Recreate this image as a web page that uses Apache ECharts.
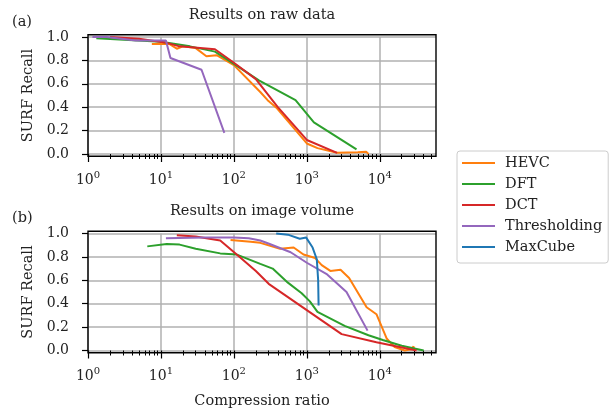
<!DOCTYPE html>
<html lang="en">
<head>
<meta charset="UTF-8">
<title>SURF Recall vs compression ratio</title>
<style>
  html, body { margin: 0; padding: 0; background: #fff; }
  #chart { width: 611px; height: 413px; }
</style>
<script src="https://cdn.jsdelivr.net/npm/echarts@6/dist/echarts.min.js"></script>
</head>
<body>
<div id="chart"></div>
<script>
// data: [compression ratio, SURF recall]
const rawHEVC = [[7.5, 0.94], [13, 0.94], [16.5, 0.90], [20, 0.92], [30, 0.905], [42, 0.835], [58, 0.845], [100, 0.76], [230, 0.53], [290, 0.46], [390, 0.39], [1000, 0.09], [1400, 0.05], [2600, 0.01], [5000, 0.015], [6500, 0.02], [7000, 0.0]];
const rawDFT = [[1.3, 0.99], [10, 0.96], [25, 0.92], [55, 0.875], [100, 0.77], [220, 0.63], [700, 0.46], [1250, 0.27], [4800, 0.04]];
const rawDCT = [[2, 1.0], [5, 0.985], [12, 0.95], [18, 0.92], [55, 0.895], [100, 0.78], [200, 0.64], [400, 0.40], [1000, 0.12], [2600, 0.01]];
const rawThr = [[1.15, 1.0], [1.8, 1.0], [4.5, 0.97], [11.7, 0.97], [13.5, 0.82], [36, 0.72], [74, 0.18]];

const volHEVC = [[90, 0.945], [170, 0.93], [230, 0.92], [430, 0.87], [660, 0.88], [900, 0.82], [1300, 0.79], [1600, 0.73], [2100, 0.68], [2900, 0.69], [3800, 0.62], [6600, 0.37], [9000, 0.31], [12500, 0.10], [16000, 0.03], [22000, 0.0], [27000, 0.01], [29000, 0.035], [30000, 0.0]];
const volDFT = [[6.5, 0.89], [12, 0.91], [18, 0.905], [30, 0.87], [65, 0.83], [110, 0.82], [230, 0.74], [340, 0.70], [550, 0.58], [850, 0.49], [1100, 0.42], [1400, 0.33], [3300, 0.21], [7000, 0.13], [11000, 0.09], [20000, 0.04], [40000, 0.0]];
const volDCT = [[16.5, 0.985], [30, 0.975], [65, 0.94], [120, 0.80], [200, 0.68], [300, 0.57], [3000, 0.14], [9000, 0.07], [32000, 0.0]];
const volThr = [[11.7, 0.96], [40, 0.965], [100, 0.965], [160, 0.96], [230, 0.94], [310, 0.91], [600, 0.84], [1000, 0.75], [1900, 0.65], [3500, 0.50], [6800, 0.17]];
const volMax = [[380, 1.0], [550, 0.99], [800, 0.955], [980, 0.965], [1200, 0.88], [1370, 0.78], [1430, 0.60], [1450, 0.385]];

const names = ['HEVC', 'DFT', 'DCT', 'Thresholding', 'MaxCube'];
const colors = ['#ff7f0e', '#2ca02c', '#d62728', '#9467bd', '#1f77b4'];
const majorTicks = [1, 10, 100, 1000, 10000];
const xMin = 1, xMax = 59000;

// minor ticks 2..9 of each decade
const minorTicks = [];
majorTicks.forEach(d => { for (let k = 2; k <= 9; k++) if (k * d < xMax) minorTicks.push(k * d); });

const FONT = 'DejaVu Serif';
const FS = 14;                         // tick label size
const FT = 14.5;                       // titles, legend, axis names
const L = 88, W = 348;                 // plot left / width
const plots = [{ top: 37, h: 117 }, { top: 233.5, h: 117 }];
const pad = 2.3;                       // frame sits slightly outside 0..1

let chart = echarts.init(document.getElementById('chart'), null, { renderer: 'canvas' });

function mainX(gi, last) {
    return {
        type: 'log', logBase: 10, gridIndex: gi, min: xMin, max: xMax, position: 'bottom',
        axisLine: { show: false },
        axisTick: { show: true, length: 8, inside: false, customValues: majorTicks, lineStyle: { color: '#000', width: 1.2 } },
        axisLabel: {
            customValues: majorTicks, margin: 16, color: '#222', fontFamily: FONT,
            formatter: v => '{b|10}{s|' + Math.round(Math.log10(v)) + '}',
            rich: {
                b: { fontSize: FS, fontFamily: FONT, color: '#222', lineHeight: 17, verticalAlign: 'bottom' },
                s: { fontSize: 10, fontFamily: FONT, color: '#222', lineHeight: 17, verticalAlign: 'top' }
            }
        },
        splitLine: { show: true, lineStyle: { color: '#b0b0b0', width: 1.5 } },
        name: last ? 'Compression ratio' : '',
        nameLocation: 'middle', nameGap: 43,
        nameTextStyle: { fontSize: FT, fontFamily: FONT, color: '#222' }
    };
}
function minorX(gi) {
    return {
        type: 'log', logBase: 10, gridIndex: gi, min: xMin, max: xMax, position: 'bottom',
        axisLine: { show: false },
        axisTick: { show: true, length: 5, customValues: minorTicks, lineStyle: { color: '#000', width: 1 } },
        axisLabel: { show: false },
        splitLine: { show: false }
    };
}
function yAx(gi) {
    return {
        type: 'value', gridIndex: gi, min: 0, max: 1, interval: 0.2,
        axisLine: { show: false },
        axisTick: { show: true, length: 6, lineStyle: { color: '#000', width: 1.2 } },
        axisLabel: { margin: 19, fontSize: FS, fontFamily: FONT, color: '#222', formatter: v => v.toFixed(1) },
        splitLine: { show: true, lineStyle: { color: '#b0b0b0', width: 1.5 } },
        name: 'SURF Recall', nameLocation: 'middle', nameGap: 51, nameRotate: 90,
        nameTextStyle: { fontSize: FT, fontFamily: FONT, color: '#222' }
    };
}

function line(name, data, ax, ay) {
    let i = names.indexOf(name);
    return {
        type: 'line', name: name, data: data, xAxisIndex: ax, yAxisIndex: ay,
        showSymbol: false, symbol: 'none', clip: false, z: 3 + i,
        lineStyle: { color: colors[i], width: 2 }, itemStyle: { color: colors[i] },
        emphasis: { disabled: true }
    };
}

const frames = plots.map(p => ({
    type: 'rect', z: 10, silent: true,
    shape: { x: L, y: p.top - pad, width: W, height: p.h + 2 * pad },
    style: { fill: 'none', stroke: '#000', lineWidth: 1.4 }
}));

let option = {
    animation: false,
    backgroundColor: '#fff',
    textStyle: { fontFamily: FONT },
    title: [
        { text: 'Results on raw data', left: L + W / 2, top: 8, textAlign: 'center', padding: 0,
          textStyle: { fontSize: FT, fontWeight: 'normal', fontFamily: FONT, color: '#222' } },
        { text: 'Results on image volume', left: L + W / 2, top: 204, textAlign: 'center', padding: 0,
          textStyle: { fontSize: FT, fontWeight: 'normal', fontFamily: FONT, color: '#222' } }
    ],
    legend: {
        data: names, orient: 'vertical', left: 457, top: 151,
        icon: 'rect', itemWidth: 33, itemHeight: 2, itemGap: 1,
        padding: [2, 6, 6, 5],
        backgroundColor: '#fff', borderColor: '#cccccc', borderWidth: 1, borderRadius: 3,
        selectedMode: false,
        textStyle: { fontSize: FT, fontFamily: FONT, color: '#222', lineHeight: 20, padding: [0, 0, 0, 5] }
    },
    grid: plots.map(p => ({ left: L, width: W, top: p.top, height: p.h, containLabel: false, show: false })),
    xAxis: [mainX(0, false), minorX(0), mainX(1, true), minorX(1)],
    yAxis: [yAx(0), yAx(1)],
    graphic: frames.concat([
        { type: 'text', left: 12, top: 15, style: { text: '(a)', font: FT + 'px "DejaVu Serif"', fill: '#222' } },
        { type: 'text', left: 12, top: 211, style: { text: '(b)', font: FT + 'px "DejaVu Serif"', fill: '#222' } }
    ]),
    series: [
        line('HEVC', rawHEVC, 0, 0),
        line('DFT', rawDFT, 0, 0),
        line('DCT', rawDCT, 0, 0),
        line('Thresholding', rawThr, 0, 0),
        line('HEVC', volHEVC, 2, 1),
        line('DFT', volDFT, 2, 1),
        line('DCT', volDCT, 2, 1),
        line('Thresholding', volThr, 2, 1),
        line('MaxCube', volMax, 2, 1)
    ]
};

chart.setOption(option);
</script>
</body>
</html>
